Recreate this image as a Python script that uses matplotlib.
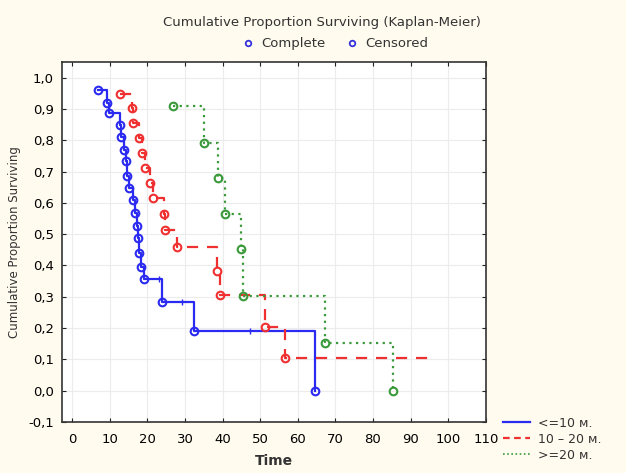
import matplotlib.pyplot as plt
from matplotlib.lines import Line2D

# event times / survival estimates
t_le10 = [6.8, 9.2, 9.9, 12.8, 13.0, 13.9, 14.2, 14.5, 15.2, 16.1, 16.7, 17.2, 17.5, 17.9,
          18.3, 19.2, 23.9, 32.5, 64.6]
s_le10 = [0.962, 0.919, 0.886, 0.850, 0.810, 0.770, 0.735, 0.685, 0.647, 0.608, 0.567, 0.526,
          0.486, 0.441, 0.395, 0.355, 0.284, 0.190, 0.0]
cens_le10_t = [23.0, 29.3, 47.3]
cens_le10_s = [0.355, 0.284, 0.190]

t_10_20 = [12.8, 16.0, 16.3, 17.9, 18.7, 19.4, 20.6, 21.6, 24.3, 24.7, 27.8, 38.5, 39.2,
           51.4, 56.5, 95.9]
s_10_20 = [0.948, 0.903, 0.856, 0.808, 0.760, 0.712, 0.664, 0.616, 0.565, 0.512, 0.459,
           0.381, 0.307, 0.202, 0.104, 0.104]

t_ge20 = [26.7, 35.1, 38.7, 40.7, 45.0, 45.5, 67.3, 85.2]
s_ge20 = [0.908, 0.792, 0.679, 0.565, 0.454, 0.302, 0.153, 0.0]

labels = ["<=10 м.", "10 – 20 м.", ">=20 м."]
x_ticks = list(range(0, 111, 10))
y_ticks = [-0.1, 0.0, 0.1, 0.2, 0.3, 0.4, 0.5, 0.6, 0.7, 0.8, 0.9, 1.0]

blue = "#2a2af0"
red = "#f03030"
green = "#3a9a3a"
cream = "#fffbee"

fig = plt.figure(figsize=(6.26, 4.73), dpi=100, facecolor=cream)
ax = fig.add_axes([0.099, 0.108, 0.677, 0.761])
ax.set_facecolor("white")

# step curves
ax.step(t_le10, s_le10, where="post", color=blue, lw=1.6, ls="-")
ax.plot(t_le10, s_le10, "o", mfc="none", mec=blue, ms=5.5, mew=1.5)
ax.plot(cens_le10_t, cens_le10_s, "|", color=blue, ms=5, mew=1)

ax.step(t_10_20, s_10_20, where="post", color=red, lw=1.6, ls=(0, (5, 4)))
ax.plot(t_10_20[:-1], s_10_20[:-1], "o", mfc="none", mec=red, ms=5.5, mew=1.5)

ax.step(t_ge20, s_ge20, where="post", color=green, lw=1.6, ls=(0, (1, 2)))
ax.plot(t_ge20, s_ge20, "o", mfc="none", mec=green, ms=5.5, mew=1.5)

ax.set_xlim(-2.7, 110)
ax.set_ylim(-0.1, 1.05)
ax.set_xticks(x_ticks)
ax.set_yticks(y_ticks)
ax.set_yticklabels([f"{v:.1f}".replace(".", ",") for v in y_ticks])
ax.tick_params(labelsize=9.5, direction="in", length=3, color="#222222", top=True, right=True,
               labeltop=False, labelright=False)
ax.tick_params(axis="x", pad=8)
ax.tick_params(axis="y", pad=6)
ax.grid(True, color="#ececec", lw=0.8)
ax.set_axisbelow(True)
for sp in ax.spines.values():
    sp.set_color("#333333")
    sp.set_linewidth(1.2)

ax.set_xlabel("Time", fontsize=10, fontweight="bold", color="#333333", labelpad=6)
ax.set_ylabel("Cumulative Proportion Surviving", fontsize=8.5, color="#333333", labelpad=5)

fig.text(0.515, 0.953, "Cumulative Proportion Surviving (Kaplan-Meier)", ha="center",
         va="center", fontsize=9.5, color="#333333")

# top legend: Complete / Censored
top_handles = [Line2D([], [], ls="none", marker="o", mfc="none", mec="#3333dd", ms=4, mew=1.3),
               Line2D([], [], ls="none", marker="o", mfc="none", mec="#3333dd", ms=4, mew=1.3)]
fig.legend(top_handles, ["Complete", "Censored"], loc="center", bbox_to_anchor=(0.535, 0.907),
           ncol=2, frameon=False, fontsize=9.5, handlelength=1.0, handletextpad=0.5,
           columnspacing=1.5, labelcolor="#333333")

# bottom-right legend for the groups
grp_handles = [Line2D([], [], color=blue, lw=1.6, ls="-"),
               Line2D([], [], color=red, lw=1.6, ls=(0, (3, 2))),
               Line2D([], [], color=green, lw=1.2, ls=(0, (1, 1.5)))]
fig.legend(grp_handles, labels, loc="lower left", bbox_to_anchor=(0.785, 0.0),
           frameon=False, fontsize=9, handlelength=2.2, handletextpad=0.6,
           labelspacing=0.25, labelcolor="#333333")

fig.savefig("out.png", dpi=100, facecolor=cream)
